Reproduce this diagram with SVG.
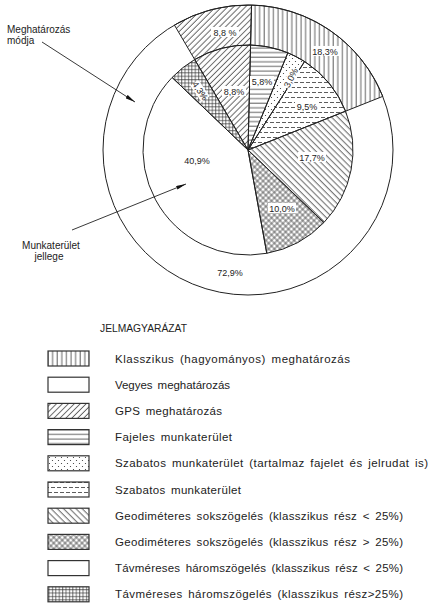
<svg xmlns="http://www.w3.org/2000/svg" width="431" height="605" viewBox="0 0 431 605">
<style>
text{font-family:"Liberation Sans",Arial,sans-serif;fill:#222}
.pl{font-size:9px;text-anchor:middle}
.ll{font-size:10px}
.lg{font-size:11.5px;word-spacing:2px}
.edge{fill:none;stroke:#222;stroke-width:1}
.box{stroke:#333;stroke-width:1.2}
.bg{fill:#fff}
</style>
<defs>
<pattern id="pVert" patternUnits="userSpaceOnUse" width="4.6" height="10"><line x1="2" y1="0" x2="2" y2="10" stroke="#333" stroke-width="0.8"/></pattern>
<pattern id="pHor" patternUnits="userSpaceOnUse" width="10" height="4.6"><line x1="0" y1="2" x2="10" y2="2" stroke="#333" stroke-width="0.8"/></pattern>
<pattern id="pGps" patternUnits="userSpaceOnUse" width="4.2" height="10" patternTransform="rotate(45)"><line x1="2" y1="0" x2="2" y2="10" stroke="#333" stroke-width="0.8"/></pattern>
<pattern id="pBack" patternUnits="userSpaceOnUse" width="4.4" height="10" patternTransform="rotate(-45)"><line x1="2" y1="0" x2="2" y2="10" stroke="#333" stroke-width="0.8"/></pattern>
<pattern id="pCross" patternUnits="userSpaceOnUse" width="4" height="4" patternTransform="rotate(45)"><line x1="2" y1="0" x2="2" y2="4" stroke="#333" stroke-width="0.7"/><line x1="0" y1="2" x2="4" y2="2" stroke="#333" stroke-width="0.7"/></pattern>
<pattern id="pGrid" patternUnits="userSpaceOnUse" width="3.4" height="3.4"><line x1="1.5" y1="0" x2="1.5" y2="3.4" stroke="#333" stroke-width="0.7"/><line x1="0" y1="1.5" x2="3.4" y2="1.5" stroke="#333" stroke-width="0.7"/></pattern>
<pattern id="pDots" patternUnits="userSpaceOnUse" width="6" height="6"><circle cx="1.5" cy="1.5" r="0.6" fill="#333"/><circle cx="4.5" cy="4.5" r="0.6" fill="#333"/></pattern>
<pattern id="pDash" patternUnits="userSpaceOnUse" width="6" height="10"><line x1="0" y1="2.5" x2="4" y2="2.5" stroke="#333" stroke-width="0.8"/><line x1="3" y1="7.5" x2="6" y2="7.5" stroke="#333" stroke-width="0.8"/><line x1="0" y1="7.5" x2="1" y2="7.5" stroke="#333" stroke-width="0.8"/></pattern>
<marker id="arr" viewBox="0 0 10 4" refX="10" refY="2" markerWidth="10" markerHeight="4" markerUnits="userSpaceOnUse" orient="auto"><path d="M0,0 L10,2 L0,4 Z" fill="#111"/></marker>
</defs>
<rect width="431" height="605" fill="#fff"/>

<!-- outer ring -->
<g id="outer-klasszikus"><path d="M251.54,5.04 A145,145 0 0 1 382.72,96.39 L345.56,111.18 A105,105 0 0 0 250.57,45.03 Z" style="fill:url(#pVert)" class="edge"/></g>
<g id="outer-gps"><path d="M174.41,25.06 A145,145 0 0 1 251.54,5.04 L250.57,45.03 A105,105 0 0 0 194.71,59.53 Z" style="fill:url(#pGps)" class="edge"/></g>
<g id="outer-vegyes"><circle cx="248" cy="150" r="145" class="edge"/></g>

<!-- inner pie -->
<g id="in-fajeles"><path d="M248,150 L250.57,45.03 A105,105 0 0 1 287.84,52.85 Z" style="fill:url(#pHor)" class="edge"/></g>
<g id="in-szabatos-jel"><path d="M248,150 L287.84,52.85 A105,105 0 0 1 304.57,61.54 Z" style="fill:url(#pDots)" class="edge"/></g>
<g id="in-szabatos"><path d="M248,150 L304.57,61.54 A105,105 0 0 1 345.56,111.18 Z" style="fill:url(#pDash)" class="edge"/></g>
<g id="in-geo-lt"><path d="M248,150 L345.56,111.18 A105,105 0 0 1 323.91,222.54 Z" style="fill:url(#pBack)" class="edge"/></g>
<g id="in-geo-gt"><path d="M248,150 L323.91,222.54 A105,105 0 0 1 266.77,253.31 Z" style="fill:url(#pCross)" class="edge"/></g>
<g id="in-tav-lt"><path d="M248,150 L266.77,253.31 A105,105 0 0 1 172.09,77.46 Z" class="edge"/></g>
<g id="in-tav-gt"><path d="M248,150 L172.09,77.46 A105,105 0 0 1 194.71,59.53 Z" style="fill:url(#pGrid)" class="edge"/></g>
<g id="in-gps"><path d="M248,150 L194.71,59.53 A105,105 0 0 1 250.57,45.03 Z" style="fill:url(#pGps)" class="edge"/></g>

<!-- slice labels -->
<g id="lbl-outer-gps"><rect class="bg" x="211" y="27" width="28" height="10"/><text class="pl" x="225" y="36">8,8 %</text></g>
<g id="lbl-klasszikus"><rect class="bg" x="311" y="46" width="28" height="10"/><text class="pl" x="325" y="55">18,3%</text></g>
<g id="lbl-fajeles"><rect class="bg" x="250" y="76" width="24" height="10"/><text class="pl" x="262" y="85">5,8%</text></g>
<g id="lbl-szab-jel" transform="translate(291,78) rotate(-63)"><rect class="bg" x="-11" y="-5" width="22" height="10"/><text class="pl" x="0" y="3">3,0%</text></g>
<g id="lbl-szabatos"><rect class="bg" x="295" y="101" width="24" height="10"/><text class="pl" x="307" y="110">9,5%</text></g>
<g id="lbl-geo-lt"><rect class="bg" x="298" y="152" width="28" height="10"/><text class="pl" x="312" y="161">17,7%</text></g>
<g id="lbl-geo-gt"><rect class="bg" x="268" y="203" width="28" height="10"/><text class="pl" x="282" y="212">10,0%</text></g>
<g id="lbl-gps"><rect class="bg" x="222" y="86" width="24" height="10"/><text class="pl" x="234" y="95">8,8%</text></g>
<g id="lbl-tav-gt" transform="translate(200,91) rotate(55)"><rect class="bg" x="-10" y="-5" width="20" height="10"/><text class="pl" x="0" y="3">4,3%</text></g>
<g id="lbl-tav-lt"><text class="pl" x="197" y="164">40,9%</text></g>
<g id="lbl-vegyes"><text class="pl" x="230" y="276">72,9%</text></g>

<!-- side labels -->
<g id="meghatarozas-modja"><text class="ll" x="7" y="33">Meghatározás</text><text class="ll" x="7" y="44">módja</text></g>
<g id="munkaterulet-jellege"><text class="ll" x="51" y="249" text-anchor="middle">Munkaterület</text><text class="ll" x="49" y="260" text-anchor="middle">jellege</text></g>

<g id="connectors" stroke="#222" stroke-width="0.9" fill="none">
<line x1="42" y1="42" x2="135" y2="102" marker-end="url(#arr)"/>
<line x1="72" y1="230" x2="186" y2="184" marker-end="url(#arr)"/>
</g>

<!-- legend -->
<g id="legend-title"><text x="100" y="332" font-size="10.5" textLength="87" lengthAdjust="spacingAndGlyphs">JELMAGYARÁZAT</text></g>
<g id="leg-1"><rect class="box" x="48" y="351" width="41" height="15" style="fill:url(#pVert)"/><text class="lg" x="115" y="362.5" textLength="235">Klasszikus (hagyományos) meghatározás</text></g>
<g id="leg-2"><rect class="box" x="48" y="377.2" width="41" height="15" fill="#fff"/><text class="lg" x="115" y="388.7" textLength="115">Vegyes meghatározás</text></g>
<g id="leg-3"><rect class="box" x="48" y="403.4" width="41" height="15" style="fill:url(#pGps)"/><text class="lg" x="115" y="414.9" textLength="107">GPS meghatározás</text></g>
<g id="leg-4"><rect class="box" x="48" y="429.6" width="41" height="15" style="fill:url(#pHor)"/><text class="lg" x="115" y="441.1" textLength="117">Fajeles munkaterület</text></g>
<g id="leg-5"><rect class="box" x="48" y="455.8" width="41" height="15" style="fill:url(#pDots)"/><text class="lg" x="115" y="467.3" textLength="313">Szabatos munkaterület (tartalmaz fajelet és jelrudat is)</text></g>
<g id="leg-6"><rect class="box" x="48" y="482" width="41" height="15" style="fill:url(#pDash)"/><text class="lg" x="115" y="493.5" textLength="126">Szabatos munkaterület</text></g>
<g id="leg-7"><rect class="box" x="48" y="508.2" width="41" height="15" style="fill:url(#pBack)"/><text class="lg" x="115" y="519.7" textLength="288">Geodiméteres sokszögelés (klasszikus rész &lt; 25%)</text></g>
<g id="leg-8"><rect class="box" x="48" y="534.4" width="41" height="15" style="fill:url(#pCross)"/><text class="lg" x="115" y="545.9" textLength="288">Geodiméteres sokszögelés (klasszikus rész &gt; 25%)</text></g>
<g id="leg-9"><rect class="box" x="48" y="560.6" width="41" height="15" fill="#fff"/><text class="lg" x="115" y="572.1" textLength="288">Távméreses háromszögelés (klasszikus rész &lt; 25%)</text></g>
<g id="leg-10"><rect class="box" x="48" y="586.8" width="41" height="15" style="fill:url(#pGrid)"/><text class="lg" x="115" y="598.3" textLength="288">Távméreses háromszögelés (klasszikus rész&gt;25%)</text></g>
</svg>
